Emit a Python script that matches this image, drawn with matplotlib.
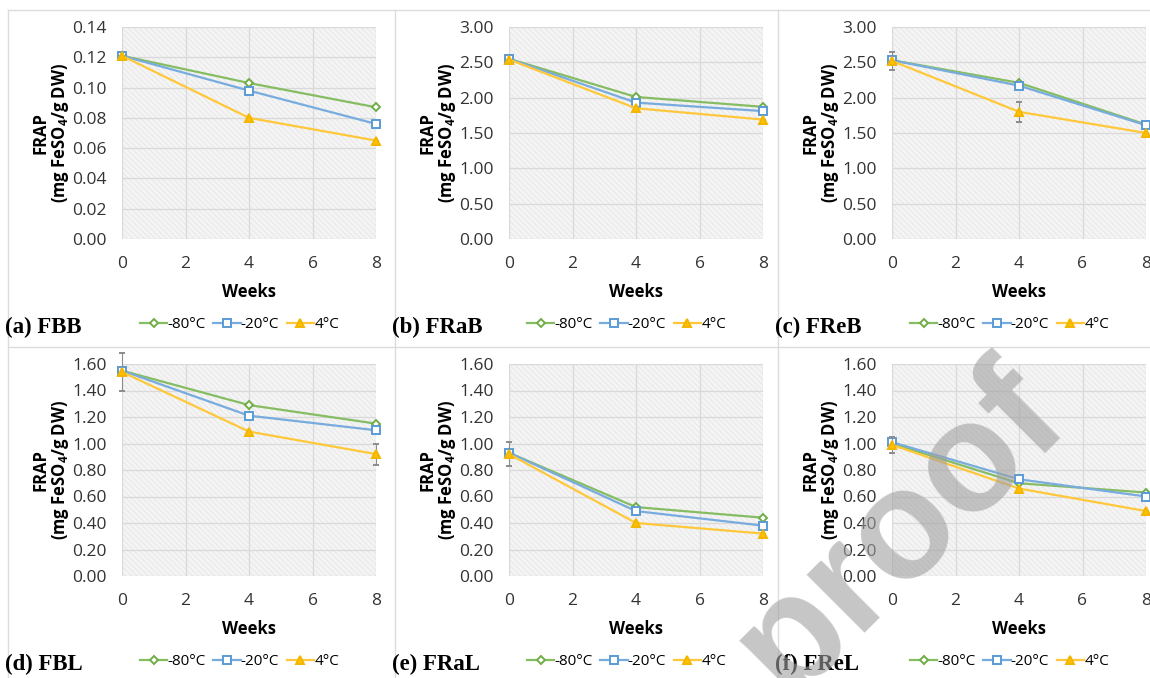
import numpy as np
import matplotlib
matplotlib.use("Agg")
import matplotlib.pyplot as plt
from matplotlib.lines import Line2D
from matplotlib.patches import Rectangle

plt.rcParams["font.family"] = ["Open Sans", "DejaVu Sans"]
plt.rcParams["mathtext.fontset"] = "custom"
plt.rcParams["mathtext.rm"] = "Open Sans:bold"
plt.rcParams["mathtext.bf"] = "Open Sans:bold"
plt.rcParams["hatch.linewidth"] = 0.35

# ---- data ----
weeks = [0, 4, 8]
series_labels = ["-80°C", "-20°C", "4°C"]
panel_titles = ["(a) FBB", "(b) FRaB", "(c) FReB", "(d) FBL", "(e) FRaL", "(f) FReL"]

fbb = [[0.121, 0.103, 0.087], [0.121, 0.098, 0.076], [0.121, 0.080, 0.065]]
frab = [[2.55, 2.01, 1.87], [2.55, 1.93, 1.81], [2.54, 1.85, 1.69]]
freb = [[2.53, 2.21, 1.62], [2.53, 2.17, 1.61], [2.52, 1.80, 1.50]]
fbl = [[1.55, 1.29, 1.15], [1.55, 1.21, 1.10], [1.54, 1.09, 0.92]]
fral = [[0.93, 0.52, 0.44], [0.93, 0.49, 0.38], [0.92, 0.40, 0.32]]
frel = [[1.00, 0.70, 0.63], [1.01, 0.73, 0.60], [0.99, 0.66, 0.49]]

# error bars (only the visible ones)
fbb_err = [[0, 0, 0], [0, 0, 0], [0, 0, 0]]
frab_err = [[0, 0, 0], [0, 0, 0], [0, 0, 0]]
freb_err = [[0, 0, 0], [0, 0, 0], [0.13, 0.14, 0]]
fbl_err = [[0, 0, 0], [0, 0, 0], [0.14, 0, 0.08]]
fral_err = [[0, 0, 0], [0, 0, 0], [0.09, 0, 0]]
frel_err = [[0, 0, 0], [0, 0, 0], [0.06, 0, 0]]

panel_data = [fbb, frab, freb, fbl, fral, frel]
panel_err = [fbb_err, frab_err, freb_err, fbl_err, fral_err, frel_err]
y_max = [0.14, 3.0, 3.0, 1.6, 1.6, 1.6]
y_step = [0.02, 0.5, 0.5, 0.2, 0.2, 0.2]

colors = ["#86bd62", "#78acde", "#ffc83a"]
edge_colors = ["#70ad47", "#5b9bd5", "#f2b600"]
markers = ["D", "s", "^"]
marker_sizes = [4, 6, 6]
marker_faces = ["white", "white", "#ffc000"]

fig = plt.figure(figsize=(11.5, 6.78), dpi=100)

lefts = [122, 509, 892]
tops = [27, 364]
W, H = 1150, 678
ax_w, ax_h = 254, 212

handles = [Line2D([], [], color=colors[k], lw=1.6, marker=markers[k], ms=marker_sizes[k],
                  mfc=marker_faces[k], mec=edge_colors[k], mew=1.4) for k in range(3)]

for idx in range(6):
    row, col = divmod(idx, 3)
    l = lefts[col] / W
    b = 1 - (tops[row] + ax_h) / H
    ax = fig.add_axes([l, b, ax_w / W, ax_h / H])
    ax.set_facecolor("#f4f4f4")
    ax.add_patch(Rectangle((0, 0), 1, 1, transform=ax.transAxes, facecolor="none",
                           edgecolor="#dcdcdc", hatch="\\\\\\\\\\\\", lw=0, zorder=0))
    data = panel_data[idx]
    errs = panel_err[idx]
    for k in range(3):
        ax.errorbar(weeks, data[k], yerr=errs[k], color=colors[k], lw=1.6,
                    ecolor="#8c8c8c", elinewidth=0.8, capsize=2, capthick=0.8,
                    marker=markers[k], ms=marker_sizes[k], mfc=marker_faces[k],
                    mec=edge_colors[k], mew=1.4, clip_on=False, zorder=3 + k)
    ax.set_xlim(0, 8)
    ax.set_ylim(0, y_max[idx])
    ax.set_xticks([0, 2, 4, 6, 8])
    yt = np.arange(0, y_max[idx] + y_step[idx] / 2, y_step[idx])
    ax.set_yticks(yt)
    ax.set_yticklabels([f"{v:.2f}" for v in yt])
    ax.grid(True, color="#d9d9d9", lw=0.9)
    ax.set_axisbelow(True)
    for s in ax.spines.values():
        s.set_visible(False)
    ax.tick_params(length=0, labelsize=12.5, colors="#333333")
    ax.tick_params(axis="x", pad=12)
    ax.tick_params(axis="y", pad=11)
    ax.set_xlabel("Weeks", fontsize=12, fontweight="bold", labelpad=8)
    ax.set_ylabel("FRAP\n(mg FeSO$_{4}$/g DW)", fontsize=12, fontweight="bold",
                  labelpad=1, linespacing=1.05)
    ax.legend(handles, series_labels, loc="center left", bbox_to_anchor=(0.07, -0.405),
              ncol=3, frameon=False, fontsize=11, handlelength=1.8, handletextpad=0.0,
              columnspacing=0.5, borderaxespad=0, borderpad=0)
    fig.text((lefts[col] - 117) / W, 1 - (tops[row] + 300) / H, panel_titles[idx],
             family="Liberation Serif", fontweight="bold", fontsize=16.5, va="center")

# panel separators
sep = "#dcdcdc"
fig.add_artist(Line2D([8 / W, 1], [1 - 10 / H] * 2, color=sep, lw=1))
fig.add_artist(Line2D([8 / W, 1], [1 - 347 / H] * 2, color=sep, lw=1))
for x in [8, 395, 778]:
    fig.add_artist(Line2D([x / W] * 2, [0, 1 - 10 / H], color=sep, lw=1))

# journal watermark
fig.text(900 / W, 1 - 530 / H, "proof", fontsize=112, family="Liberation Sans",
         fontweight="bold", color="#a0a0a0", alpha=0.6, rotation=45,
         ha="center", va="center", zorder=10)

fig.savefig("out.png", dpi=100)
